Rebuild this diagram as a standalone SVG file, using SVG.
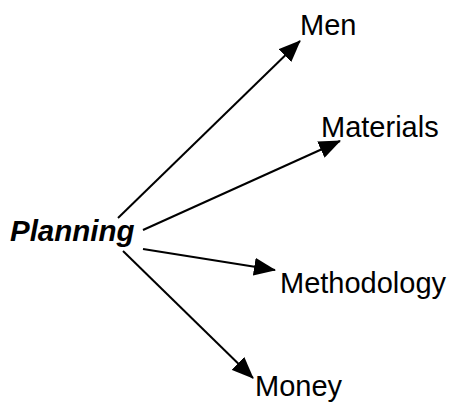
<svg xmlns="http://www.w3.org/2000/svg" width="452" height="402" viewBox="0 0 452 402">
  <style>
    .label { font-family: "Liberation Sans", Arial, sans-serif; font-size: 29px; fill: #000; }
    .root { font-weight: bold; font-style: italic; font-size: 29.5px; }
    .edge { stroke: #000; stroke-width: 2; fill: none; marker-end: url(#head); }
  </style>
  <defs>
    <marker id="head" markerUnits="userSpaceOnUse" markerWidth="22" markerHeight="18" viewBox="0 0 22 18" refX="21" refY="9" orient="auto">
      <path d="M0,0 L22,9 L0,18 Z" fill="#000"/>
    </marker>
  </defs>
  <rect width="452" height="402" fill="#fff"/>
  <g id="connectors">
    <line class="edge" x1="118" y1="218" x2="300" y2="41"/>
    <line class="edge" x1="143" y1="230" x2="340" y2="141"/>
    <line class="edge" x1="143" y1="249" x2="275" y2="270"/>
    <line class="edge" x1="123" y1="251" x2="253" y2="378"/>
  </g>
  <g id="planning"><text class="label root" x="10" y="241">Planning</text></g>
  <g id="men"><text class="label" x="300" y="35">Men</text></g>
  <g id="materials"><text class="label" x="321" y="137">Materials</text></g>
  <g id="methodology"><text class="label" x="280" y="293">Methodology</text></g>
  <g id="money"><text class="label" x="255" y="396">Money</text></g>
</svg>
